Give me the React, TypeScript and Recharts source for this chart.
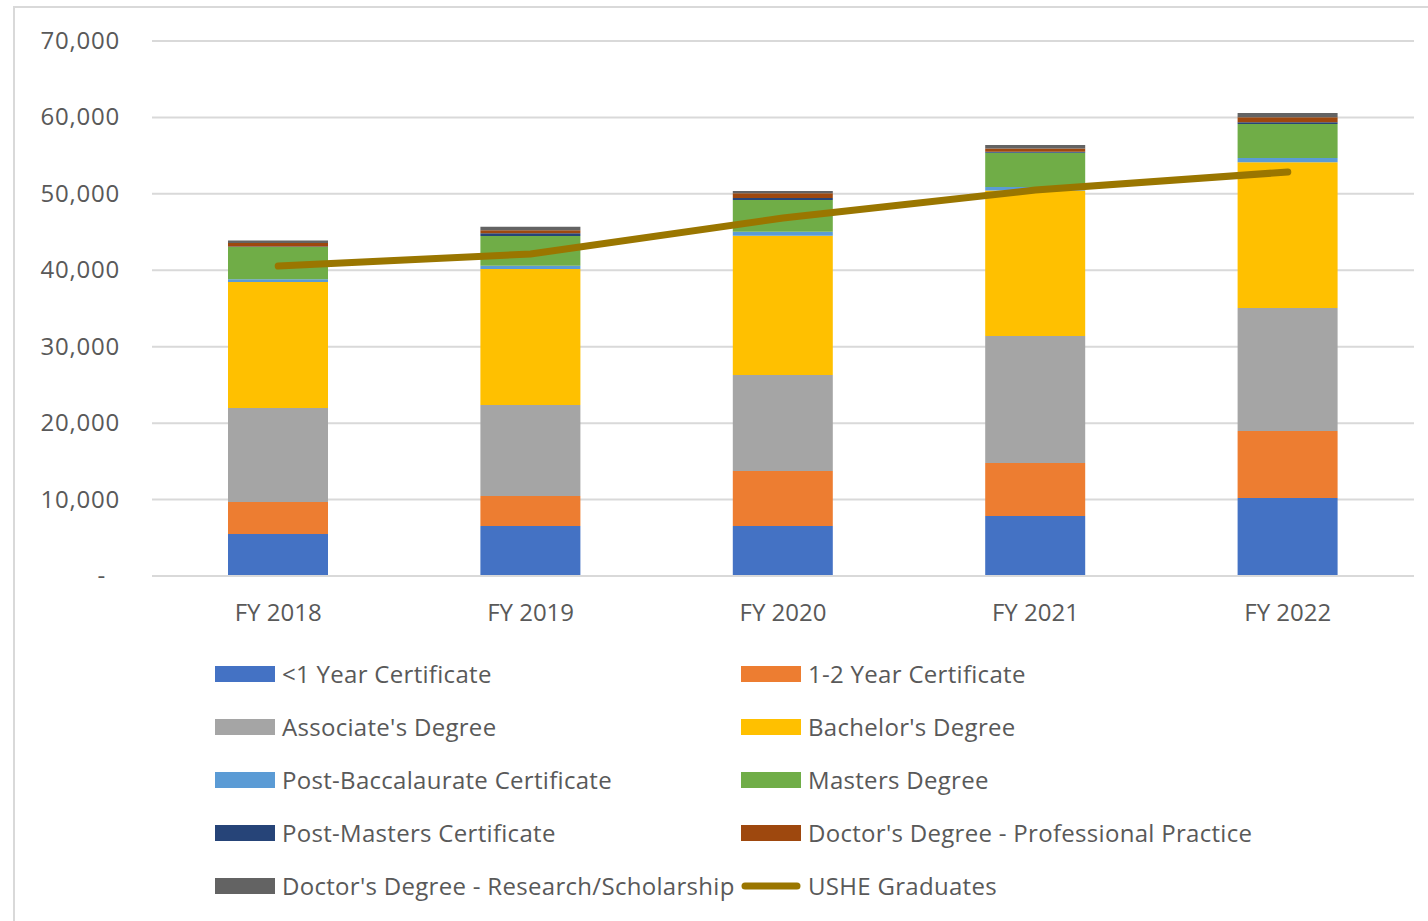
import React from 'react';
import { ComposedChart, Bar, Line, XAxis, YAxis, CartesianGrid } from 'recharts';

const years = ['FY 2018', 'FY 2019', 'FY 2020', 'FY 2021', 'FY 2022'];
const lessThanOneYear = [5500, 6540, 6540, 7850, 10200];
const oneToTwoYear = [4180, 3930, 7200, 6930, 8770];
const associates = [12300, 11900, 12560, 16620, 16100];
const bachelors = [16490, 17800, 18230, 19040, 19060];
const postBacc = [350, 430, 520, 450, 560];
const masters = [4220, 3890, 4150, 4500, 4450];
const postMasters = [80, 350, 260, 130, 220];
const doctorProfessional = [450, 390, 610, 430, 650];
const doctorResearch = [340, 470, 300, 430, 570];
const usheGraduates = [40560, 42130, 46840, 50500, 52860];
const yTicks = [0, 10000, 20000, 30000, 40000, 50000, 60000, 70000];

const barSeries = [
    { key: 'lt1', name: '<1 Year Certificate', color: '#4472C4', values: lessThanOneYear },
    { key: 'y12', name: '1-2 Year Certificate', color: '#ED7D31', values: oneToTwoYear },
    { key: 'assoc', name: "Associate's Degree", color: '#A5A5A5', values: associates },
    { key: 'bach', name: "Bachelor's Degree", color: '#FFC000', values: bachelors },
    { key: 'pbacc', name: 'Post-Baccalaurate Certificate', color: '#5B9BD5', values: postBacc },
    { key: 'mast', name: 'Masters Degree', color: '#70AD47', values: masters },
    { key: 'pmast', name: 'Post-Masters Certificate', color: '#264478', values: postMasters },
    { key: 'docp', name: "Doctor's Degree - Professional Practice", color: '#9E480E', values: doctorProfessional },
    { key: 'docr', name: "Doctor's Degree - Research/Scholarship", color: '#636363', values: doctorResearch },
];
const lineColor = '#9A7600';

const data = years.map((year, i) => {
    const row: any = { year, ushe: usheGraduates[i] };
    barSeries.forEach(s => { row[s.key] = s.values[i]; });
    return row;
});

const fmt = (v: number) => (v === 0 ? '-' : v.toLocaleString('en-US'));

const YTick = ({ x, y, payload }: any) => (
    <text x={payload.value === 0 ? x - 14 : x} y={y} dy={8} textAnchor="end" fill="#595959" fontSize={24} letterSpacing={0.8}>
        {fmt(payload.value)}
    </text>
);

const legendItems = [
    ...barSeries.map(s => ({ name: s.name, color: s.color, line: false })),
    { name: 'USHE Graduates', color: lineColor, line: true },
];

export default function App() {
    return (
        <div style={{ position: 'absolute', left: 13, top: 6, width: 1440, height: 940, border: '2px solid #d9d9d9', background: '#fff', fontFamily: '"Open Sans", sans-serif' }}>
            <ComposedChart width={1410} height={620} data={data} margin={{ top: 33, right: 11, left: 0, bottom: 12 }}>
                <CartesianGrid vertical={false} stroke="#d9d9d9" strokeWidth={2} />
                <XAxis dataKey="year" axisLine={{ stroke: '#d9d9d9', strokeWidth: 2 }} tickLine={false} height={40} tickMargin={22} tick={{ fill: '#595959', fontSize: 24 }} />
                <YAxis width={137} domain={[0, 70000]} ticks={yTicks} axisLine={false} tickLine={false} tickMargin={26} tick={<YTick />} />
                {barSeries.map(s => (
                    <Bar key={s.key} dataKey={s.key} name={s.name} stackId="a" fill={s.color} barSize={100} isAnimationActive={false} />
                ))}
                <Line type="linear" dataKey="ushe" name="USHE Graduates" stroke={lineColor} strokeWidth={7} strokeLinecap="round" dot={false} activeDot={false} isAnimationActive={false} />
            </ComposedChart>
            <div style={{ position: 'absolute', left: 0, top: 0 }}>
                {legendItems.map((item, i) => {
                    const col = i % 2;
                    const row = Math.floor(i / 2);
                    const left = (col === 0 ? 215 : 741) - 15;
                    const top = 674 + row * 53 - 8;
                    return (
                        <div key={item.name} style={{ position: 'absolute', left, top: top - 17, height: 32, display: 'flex', alignItems: 'center', whiteSpace: 'nowrap' }}>
                            {item.line ? (
                                <svg width={60} height={16} style={{ display: 'block', marginTop: 2 }}>
                                    <line x1={4} y1={8} x2={56} y2={8} stroke={item.color} strokeWidth={7} strokeLinecap="round" />
                                </svg>
                            ) : (
                                <div style={{ width: 60, height: 16, background: item.color, marginTop: 2 }} />
                            )}
                            <span style={{ marginLeft: 7, fontSize: 24, color: '#595959', letterSpacing: 0.3 }}>{item.name}</span>
                        </div>
                    );
                })}
            </div>
        </div>
    );
}
